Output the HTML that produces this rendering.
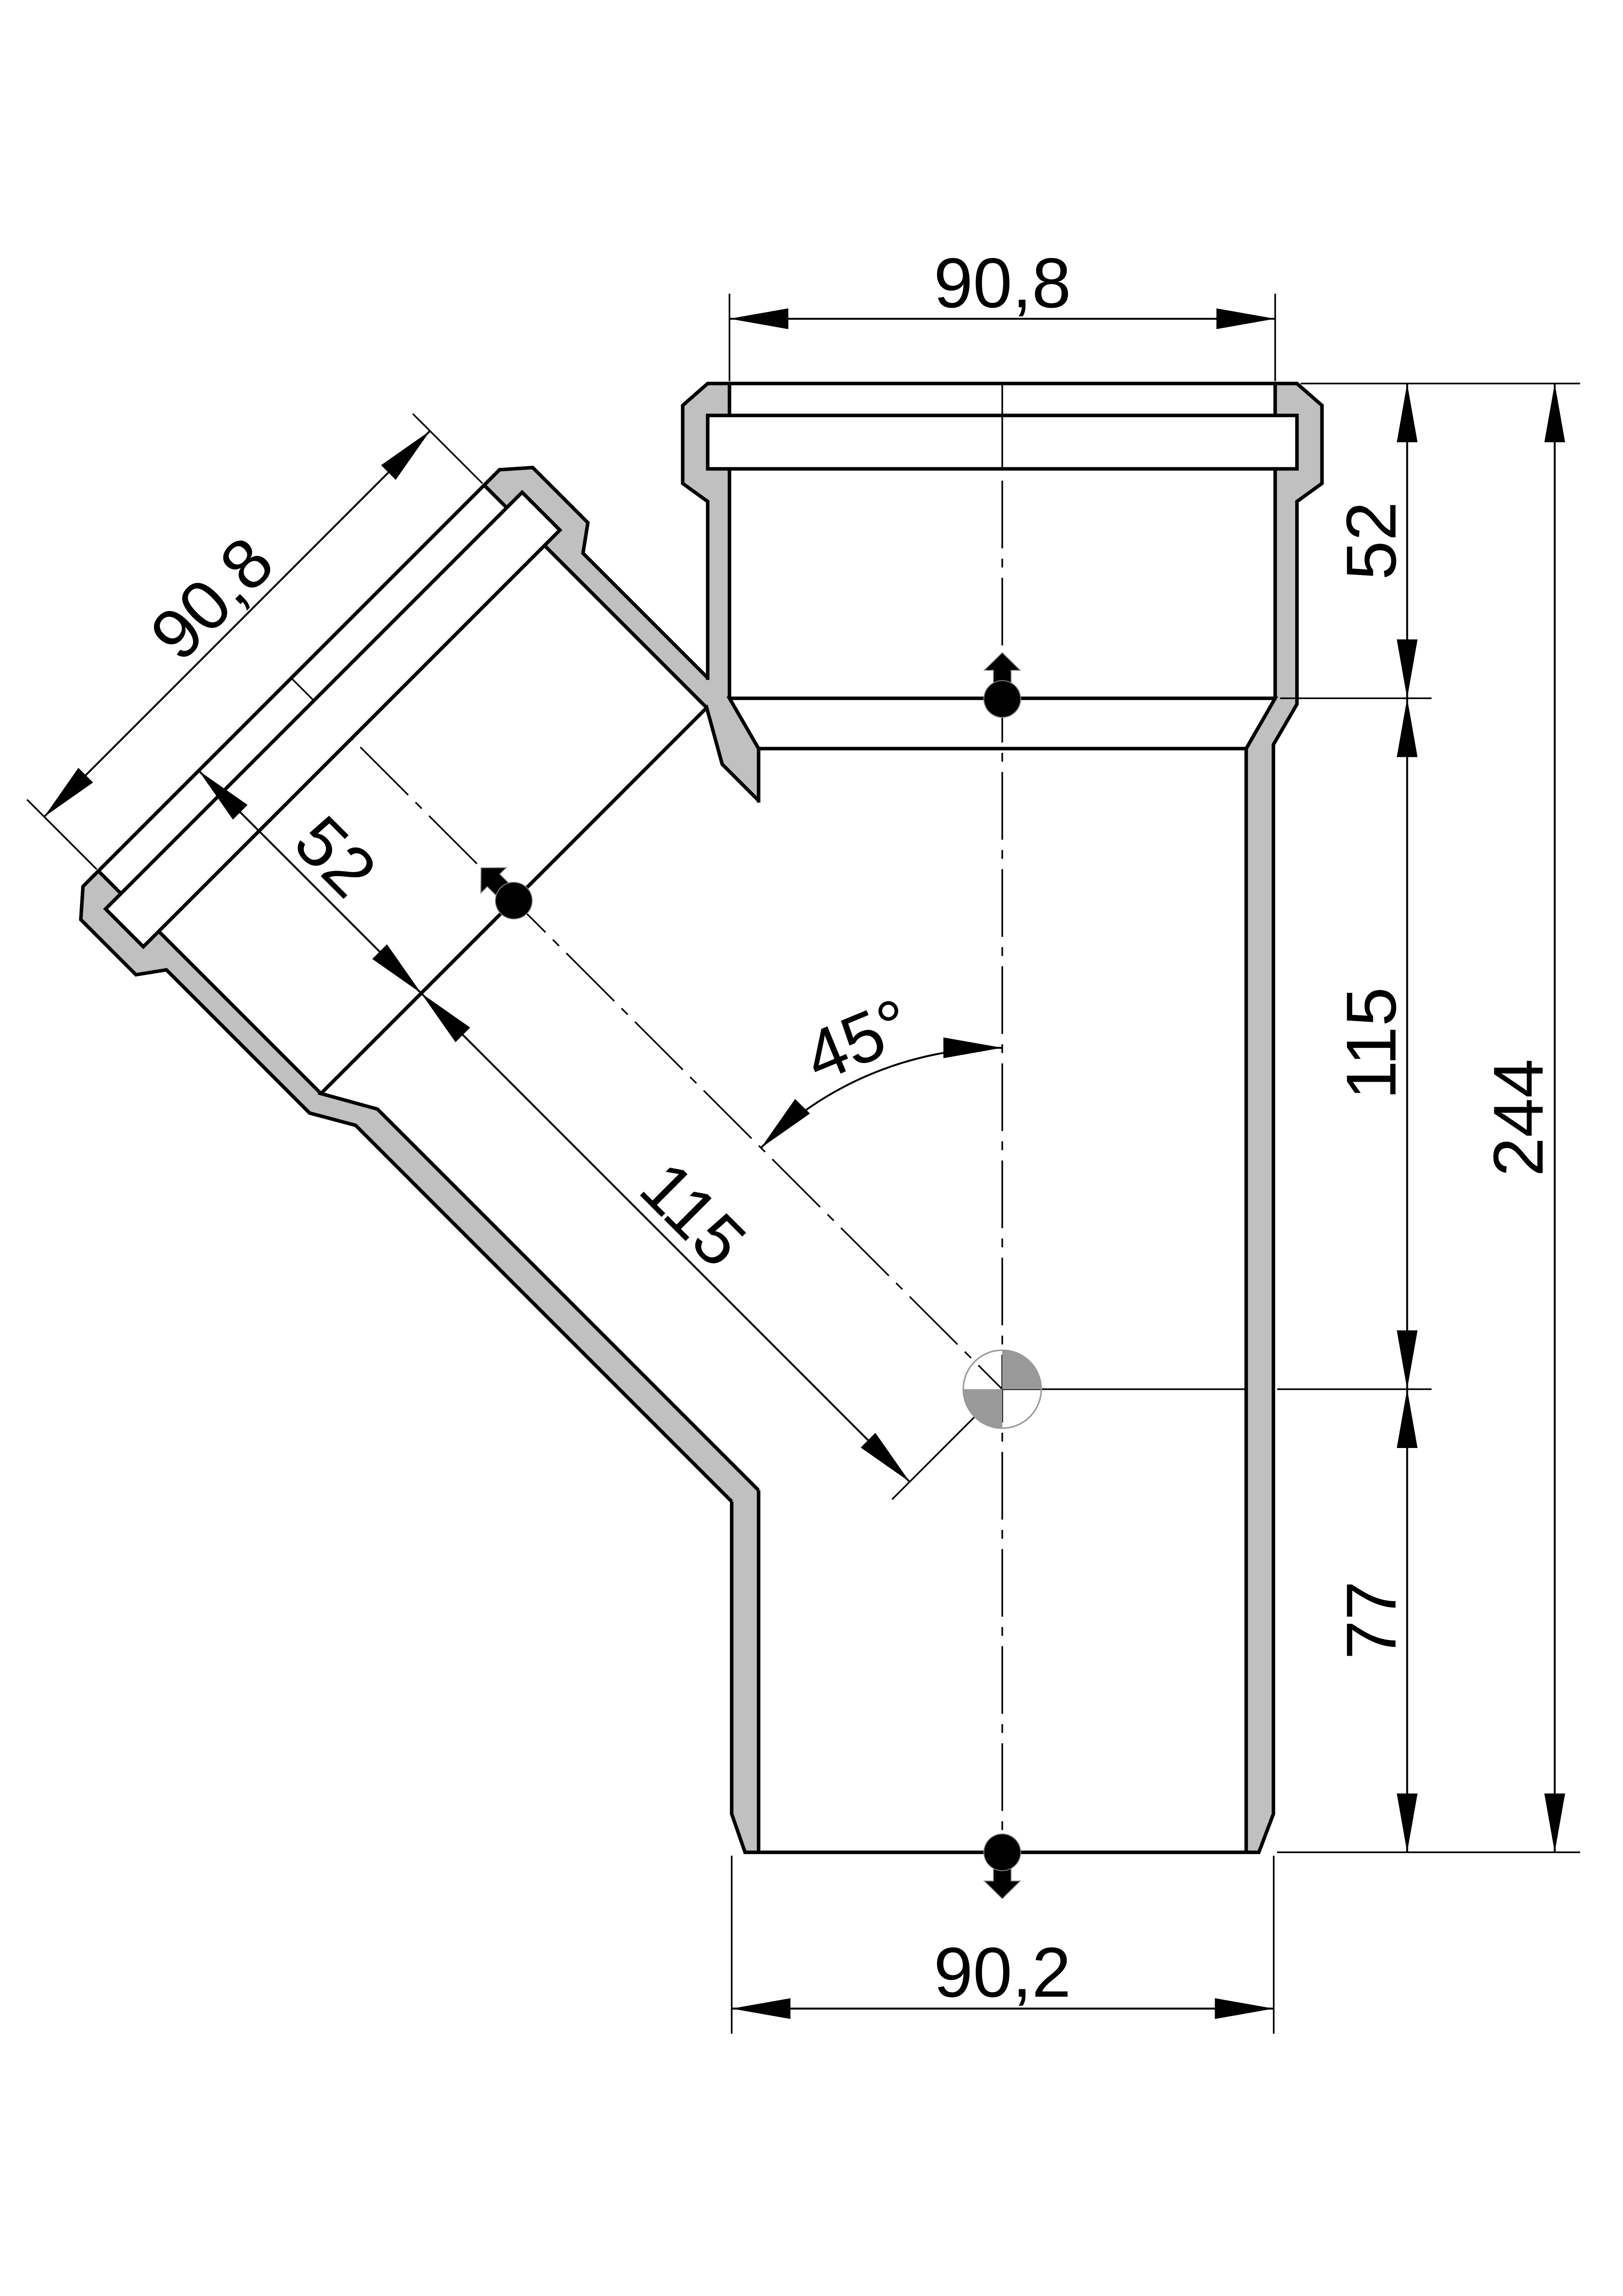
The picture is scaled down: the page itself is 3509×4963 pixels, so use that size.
<!DOCTYPE html>
<html><head><meta charset="utf-8"><style>
html,body{margin:0;padding:0;background:#fff;}
svg{display:block;}
text{font-family:"Liberation Sans","DejaVu Sans",sans-serif;font-size:48px;fill:#000;}
</style></head><body>
<svg xmlns="http://www.w3.org/2000/svg" width="3509" height="4963" viewBox="0 0 1103.1 1560.2">
<defs>
<marker id="ar" markerUnits="userSpaceOnUse" markerWidth="40" markerHeight="16" refX="34" refY="6" orient="auto-start-reverse" viewBox="0 0 34 12"><path d="M0,0 L34,6 L0,12 Z" fill="#000"/></marker>
<g id="mk"><path d="M-6,-3 L-6,-19.5 L-12.2,-19.5 L0,-31.5 L12.2,-19.5 L6,-19.5 L6,-3 Z" fill="#000" stroke="#888" stroke-width="0.6"/><circle r="12.5" fill="#000" stroke="#888" stroke-width="0.6"/></g>
</defs>
<rect width="1103.1" height="1560.2" fill="#fff"/>

<path d="M481,260.6 L464,275.5 L464,328.5 L481,340.8 L481,478.5 L497.3,506 L497.3,1232.6 L506.4,1258.7 L855.6,1258.7 L865.5,1232.6 L865.5,506 L881.5,478.5 L881.5,340.8 L898.5,328.5 L898.5,275.5 L881.5,260.6 Z" fill="#c0c0c0"/>
<g transform="translate(681.2 944) rotate(-45)">
<path d="M-200.2,-683.4 L-217.2,-668.5 L-217.2,-615.5 L-200.2,-603.2 L-200.2,-465.6 L-184,-437.6 L-184,0 L184,0 L184,-437.6 L200.2,-465.6 L200.2,-603.2 L217.2,-615.5 L217.2,-668.5 L200.2,-683.4 Z" fill="#c0c0c0"/>
</g>
<path d="M495.8,260.6 L866.7,260.6 L866.7,474.5 L847,508.7 L847,1258.7 L515.6,1258.7 L515.6,508.7 L495.8,474.5 Z" fill="#fff"/>
<g transform="translate(681.2 944) rotate(-45)">
<path d="M-185.4,-683.4 L185.4,-683.4 L185.4,-469.5 L165.7,-434.9 L165.7,0 L-165.7,0 L-165.7,-434.9 L-185.4,-469.5 Z" fill="#fff"/>
</g>

<g stroke="#000" stroke-width="1.1" fill="none">
<line x1="681.2" y1="260.6" x2="681.2" y2="1258.7" stroke-dasharray="46 7 6 7"/>
<line x1="681.2" y1="944" x2="847" y2="944"/>
<line x1="868" y1="944" x2="973" y2="944"/>
<line x1="884" y1="260.6" x2="1074" y2="260.6"/>
<line x1="870" y1="474.5" x2="973" y2="474.5"/>
<line x1="868" y1="1258.7" x2="1074" y2="1258.7"/>
<line x1="495.8" y1="199.6" x2="495.8" y2="259"/>
<line x1="866.7" y1="199.6" x2="866.7" y2="259"/>
<line x1="497.3" y1="1261" x2="497.3" y2="1382"/>
<line x1="865.7" y1="1261" x2="865.7" y2="1382"/>
<g transform="translate(681.2 944) rotate(-45)">
<line x1="0" y1="-683" x2="0" y2="0" stroke-dasharray="46 7 6 7"/>
<line x1="0" y1="0" x2="-105.9" y2="0"/>
<line x1="-185.4" y1="-685" x2="-185.4" y2="-752"/>
<line x1="185.4" y1="-685" x2="185.4" y2="-752"/>
</g>
</g>

<circle cx="681.2" cy="944" r="26.5" fill="none" stroke="#999" stroke-width="1"/>
<path d="M681.2,944 L707.7,944 A26.5,26.5 0 0 0 681.2,917.5 Z" fill="#999"/>
<path d="M681.2,944 L654.7,944 A26.5,26.5 0 0 0 681.2,970.5 Z" fill="#999"/>

<g stroke="#000" stroke-width="2.4" fill="none" stroke-linejoin="miter">
<polyline points="481,462 481,340.8 464,328.5 464,275.5 481,260.6 881.5,260.6 898.5,275.5 898.5,328.5 881.5,340.8 881.5,478.5 865.5,506 865.5,1232.6 855.6,1258.7 506.4,1258.7 497.3,1232.6 497.3,1020.4"/>
<line x1="495.8" y1="260.6" x2="495.8" y2="474.5"/>
<line x1="866.7" y1="260.6" x2="866.7" y2="474.5"/>
<polyline points="515.6,545.4 515.6,508.7 495.8,474.5 866.7,474.5 847,508.7 847,1258.7"/>
<line x1="515.6" y1="508.7" x2="847" y2="508.7"/>
<line x1="515.6" y1="1012.6" x2="515.6" y2="1258.7"/>
<g transform="translate(681.2 944) rotate(-45)">
<polyline points="200.2,-483 200.2,-603.2 217.2,-615.5 217.2,-668.5 200.2,-683.4 -200.2,-683.4 -217.2,-668.5 -217.2,-615.5 -200.2,-603.2 -200.2,-465.6 -184,-437.6 -184,-76"/>
<line x1="185.4" y1="-683.4" x2="185.4" y2="-469.5"/>
<line x1="-185.4" y1="-683.4" x2="-185.4" y2="-469.5"/>
<polyline points="165.7,-399.3 165.7,-434.9 185.4,-469.5 -185.4,-469.5 -165.7,-434.9 -165.7,-68.6"/>
</g>
</g>

<!-- rings on top -->
<rect x="481" y="282.3" width="400.5" height="36.3" fill="#fff" stroke="#000" stroke-width="2.4"/>
<line x1="681.2" y1="283.5" x2="681.2" y2="317.4" stroke="#000" stroke-width="1.1"/>
<g transform="translate(681.2 944) rotate(-45)">
<rect x="-200.2" y="-661.7" width="400.4" height="36.3" fill="#fff" stroke="#000" stroke-width="2.4"/>
</g>

<use href="#mk" transform="translate(681.2 475)"/>
<use href="#mk" transform="translate(681.2 1258.7) rotate(180)"/>
<g transform="translate(681.2 944) rotate(-45)"><use href="#mk" transform="translate(0 -469.5)"/></g>

<g stroke="#000" stroke-width="1.3" fill="none" marker-start="url(#ar)" marker-end="url(#ar)">
<line x1="495.8" y1="216.6" x2="866.7" y2="216.6"/>
<line x1="497.3" y1="1364.9" x2="865.7" y2="1364.9"/>
<line x1="956.4" y1="260.6" x2="956.4" y2="474.5"/>
<line x1="956.4" y1="474.5" x2="956.4" y2="944"/>
<line x1="956.4" y1="944" x2="956.4" y2="1258.7"/>
<line x1="1056.7" y1="260.6" x2="1056.7" y2="1258.7"/>
<path d="M681.2,712 A232,232 0 0 0 517.2,780"/>
<g transform="translate(681.2 944) rotate(-45)">
<line x1="-185.4" y1="-735.5" x2="185.4" y2="-735.5"/>
<line x1="-89" y1="-683.4" x2="-89" y2="-469.5"/>
<line x1="-89" y1="-469.5" x2="-89" y2="0"/>
</g>
</g>

<text x="681.3" y="208.8" text-anchor="middle">90,8</text>
<text x="681.3" y="1356.8" text-anchor="middle">90,2</text>
<text transform="translate(948.5 367.5) rotate(-90)" text-anchor="middle">52</text>
<text transform="translate(948.5 709) rotate(-90)" text-anchor="middle">115</text>
<text transform="translate(948.5 1101) rotate(-90)" text-anchor="middle">77</text>
<text transform="translate(1048.5 759.5) rotate(-90)" text-anchor="middle">244</text>
<text transform="translate(589.4 722) rotate(-22.5)" text-anchor="middle">45°</text>
<g transform="translate(681.2 944) rotate(-45)">
<text x="0" y="-743.3" text-anchor="middle">90,8</text>
<text transform="translate(-81 -576.4) rotate(90)" text-anchor="middle">52</text>
<text transform="translate(-81 -232.6) rotate(90)" text-anchor="middle">115</text>
</g>
</svg>
</body></html>
